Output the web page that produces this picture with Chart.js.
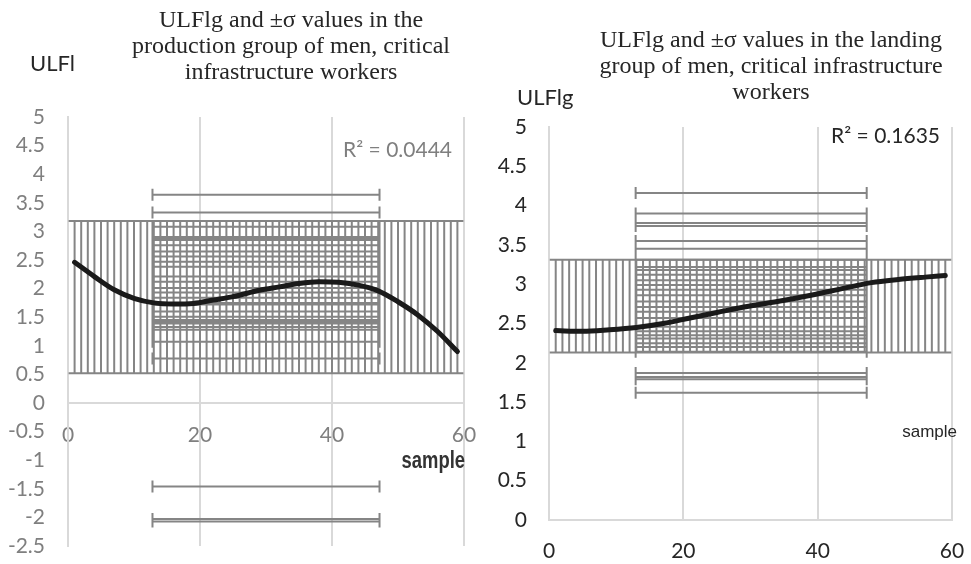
<!DOCTYPE html>
<html><head><meta charset="utf-8">
<script src="https://cdn.jsdelivr.net/npm/chart.js@4.4.1/dist/chart.umd.min.js"></script>
<style>
html,body{margin:0;padding:0;background:#fff;width:971px;height:564px;overflow:hidden}
#w1{position:absolute;left:0;top:0;width:485px;height:564px}
#w2{position:absolute;left:485px;top:0;width:486px;height:564px}
</style></head><body>
<div id="w1"><canvas id="c1"></canvas></div>
<div id="w2"><canvas id="c2"></canvas></div>
<script>
// ---------- data ----------
const sampleIdx = [1,2,3,4,5,6,7,8,9,10,11,12,13,14,15,16,17,18,19,20,21,22,23,24,25,26,27,28,29,30,
  31,32,33,34,35,36,37,38,39,40,41,42,43,44,45,46,47,48,49,50,51,52,53,54,55,56,57,58,59];
const xTicks = [0,20,40,60];

// production group
const prodValues = [3.64,3.33,3.08,3.08,2.90,2.90,2.88,2.85,2.85,2.85,2.76,2.76,2.65,2.65,2.56,2.56,2.47,2.47,
  2.38,2.38,2.38,2.38,2.21,2.21,2.12,2.12,2.01,2.01,1.93,1.93,1.84,1.84,1.84,1.75,1.75,1.72,1.72,1.72,
  1.60,1.60,1.51,1.51,1.45,1.45,1.42,1.42,1.39,1.39,1.39,1.33,1.33,1.33,1.28,1.28,1.07,0.78,-1.46,-2.03,-2.07];
const prodMean = 1.85, prodSigma = 1.33;
const sampleMean = 30, sampleSigma = 17.2;
const prodTrendX = [1,4,7,10,13,16,19,22,25,29,32,35,38,41,44,47,50,53,56,59];
const prodTrendY = [2.46,2.21,1.98,1.83,1.75,1.73,1.74,1.80,1.86,1.97,2.03,2.09,2.12,2.11,2.06,1.96,1.77,1.54,1.25,0.90];
const prodR2 = 'R² = 0.0444';

// landing group
const landValues = [4.16,3.90,3.78,3.74,3.55,3.45,3.31,3.22,3.22,3.18,3.18,3.12,3.12,3.05,3.05,3.05,2.99,2.99,
  2.93,2.93,2.93,2.86,2.86,2.78,2.78,2.71,2.71,2.65,2.65,2.57,2.57,2.57,2.46,2.46,2.46,2.46,2.40,2.40,2.40,2.40,
  2.35,2.35,2.35,2.31,2.31,2.31,2.25,2.25,2.25,2.20,2.20,2.20,2.14,2.14,2.14,1.87,1.82,1.79,1.62];
const landMean = 2.72, landSigma = 0.59;
const landSampleMean = 30.1, landSampleSigma = 17.2;
const landTrendX = [1,5,9,13,17,21,25,29,34,39,44,48,52,56,59];
const landTrendY = [2.41,2.40,2.42,2.45,2.50,2.57,2.64,2.71,2.78,2.86,2.95,3.02,3.06,3.09,3.11];
const landR2 = 'R² = 0.1635';

// ---------- helpers ----------
function vStems(xs, lo, hi){ const d=[]; xs.forEach(x=>{ d.push({x:x,y:lo},{x:x,y:hi},{x:x,y:null}); }); return d; }
function hStems(vals, lo, hi){ const d=[]; vals.forEach(v=>{ d.push({x:lo,y:v},{x:hi,y:v},{x:hi,y:null}); }); return d; }
function pts(xs, ys){ return xs.map((x,i)=>({x:x,y:ys[i]})); }

function capsPlugin(cfg){
  return { id:'errCaps', beforeDatasetsDraw(chart){
    const ctx=chart.ctx, sx=chart.scales.x, sy=chart.scales.y, c=cfg.cap;
    ctx.save(); ctx.strokeStyle=cfg.color; ctx.lineWidth=cfg.width; ctx.beginPath();
    cfg.xs.forEach(v=>{ const px=sx.getPixelForValue(v);
      [cfg.yLo,cfg.yHi].forEach(w=>{ const py=sy.getPixelForValue(w); ctx.moveTo(px-c,py); ctx.lineTo(px+c,py); }); });
    cfg.values.forEach(v=>{ const py=sy.getPixelForValue(v);
      [cfg.xLo,cfg.xHi].forEach(w=>{ const px=sx.getPixelForValue(w); ctx.moveTo(px,py-c); ctx.lineTo(px,py+c); }); });
    ctx.stroke(); ctx.restore();
  }};
}
function textPlugin(items){
  return { id:'texts', afterDraw(chart){
    const ctx=chart.ctx;
    items.forEach(t=>{ ctx.save(); ctx.font=t.font; ctx.fillStyle=t.color; ctx.textAlign=t.align||'center';
      ctx.textBaseline=t.base||'middle'; ctx.translate(t.x,t.y); ctx.scale(t.sx||1,1); ctx.fillText(t.text,0,0); ctx.restore(); });
  }};
}

const GRID='#d9d9d9', BAR='#858585', NONE='rgba(0,0,0,0)';
const serif='24px "Liberation Serif", "Times New Roman", serif';
const tickFont={family:'Lato', size:21};

function datasets(trendX,trendY,xs,vals,yLo,yHi,xLo,xHi){
  return [
    {label:'trend', data:pts(trendX,trendY), borderColor:'#1a1a1a', borderWidth:5, pointRadius:0,
      cubicInterpolationMode:'monotone', borderCapStyle:'round', order:0},
    {label:'±σ (sample)', data:vStems(xs,yLo,yHi), borderColor:BAR, borderWidth:2, pointRadius:0, spanGaps:false, order:1},
    {label:'±σ (value)', data:hStems(vals,xLo,xHi), borderColor:BAR, borderWidth:2, pointRadius:0, spanGaps:false, order:2}
  ];
}

// ---------- left chart ----------
new Chart(document.getElementById('c1'), {
  type:'line',
  data:{datasets:datasets(prodTrendX,prodTrendY,sampleIdx,prodValues,prodMean-prodSigma,prodMean+prodSigma,
    sampleMean-sampleSigma,sampleMean+sampleSigma)},
  options:{
    responsive:true, maintainAspectRatio:false, animation:false, devicePixelRatio:1,
    layout:{padding:{top:117,right:21,bottom:18,left:0}},
    plugins:{legend:{display:false}, title:{display:false}, tooltip:{enabled:false}},
    scales:{
      x:{type:'linear', min:0, max:60, position:{y:0},
        afterBuildTicks:s=>{ s.ticks=xTicks.map(v=>({value:v})); },
        ticks:{padding:0, color:'#7f7f7f', font:tickFont},
        grid:{color:GRID, lineWidth:2, drawTicks:true, tickLength:20, tickColor:NONE}, border:{color:GRID, width:2},
        afterFit:s=>{ s.height=0; }},
      y:{type:'linear', min:-2.5, max:5,
        ticks:{stepSize:0.5, padding:0, color:'#7f7f7f', font:tickFont, callback:v=>String(v)},
        grid:{drawOnChartArea:false, drawTicks:true, tickLength:23, tickColor:NONE}, border:{color:GRID, width:2},
        afterFit:s=>{ s.width=68; }}
    }
  },
  plugins:[
    capsPlugin({xs:sampleIdx, values:prodValues, yLo:prodMean-prodSigma, yHi:prodMean+prodSigma,
      xLo:sampleMean-sampleSigma, xHi:sampleMean+sampleSigma, cap:6, color:BAR, width:2}),
    textPlugin([
      {text:'ULFlg and ±σ values in the', x:291, y:21, font:serif, color:'#262626'},
      {text:'production group of men, critical', x:291, y:47, font:serif, color:'#262626'},
      {text:'infrastructure workers', x:291, y:73, font:serif, color:'#262626'},
      {text:'ULFl', x:30, y:64, font:'22px Lato', color:'#262626', align:'left'},
      {text:prodR2, x:452, y:150, font:'21px Lato', color:'#7f7f7f', align:'right'},
      {text:'sample', x:465, y:468, sx:0.8, font:'bold 23px "Liberation Sans", Arial, sans-serif', color:'#333333', align:'right', base:'alphabetic'}
    ])
  ]
});

// ---------- right chart ----------
new Chart(document.getElementById('c2'), {
  type:'line',
  data:{datasets:datasets(landTrendX,landTrendY,sampleIdx,landValues,landMean-landSigma,landMean+landSigma,
    landSampleMean-landSampleSigma,landSampleMean+landSampleSigma)},
  options:{
    responsive:true, maintainAspectRatio:false, animation:false, devicePixelRatio:1,
    layout:{padding:{top:127,right:19,bottom:0,left:0}},
    plugins:{legend:{display:false}, title:{display:false}, tooltip:{enabled:false}},
    scales:{
      x:{type:'linear', min:0, max:60, position:'bottom',
        afterBuildTicks:s=>{ s.ticks=xTicks.map(v=>({value:v})); },
        ticks:{padding:0, color:'#262626', font:tickFont},
        grid:{color:GRID, lineWidth:2, drawTicks:true, tickLength:19, tickColor:NONE}, border:{color:GRID, width:2},
        afterFit:s=>{ s.height=44; }},
      y:{type:'linear', min:0, max:5,
        ticks:{stepSize:0.5, padding:0, color:'#262626', font:tickFont, callback:v=>String(v)},
        grid:{drawOnChartArea:false, drawTicks:true, tickLength:22, tickColor:NONE}, border:{color:GRID, width:2},
        afterFit:s=>{ s.width=64; }}
    }
  },
  plugins:[
    capsPlugin({xs:sampleIdx, values:landValues, yLo:landMean-landSigma, yHi:landMean+landSigma,
      xLo:landSampleMean-landSampleSigma, xHi:landSampleMean+landSampleSigma, cap:6, color:BAR, width:2}),
    textPlugin([
      {text:'ULFlg and ±σ values in the landing', x:286, y:41, font:serif, color:'#262626'},
      {text:'group of men, critical infrastructure', x:286, y:67, font:serif, color:'#262626'},
      {text:'workers', x:286, y:93, font:serif, color:'#262626'},
      {text:'ULFlg', x:32, y:98, font:'22px Lato', color:'#262626', align:'left'},
      {text:landR2, x:455, y:136, font:'21px Lato', color:'#262626', align:'right'},
      {text:'sample', x:472, y:432, font:'17px "Liberation Sans", Arial, sans-serif', color:'#262626', align:'right'}
    ])
  ]
});
</script>
</body></html>
